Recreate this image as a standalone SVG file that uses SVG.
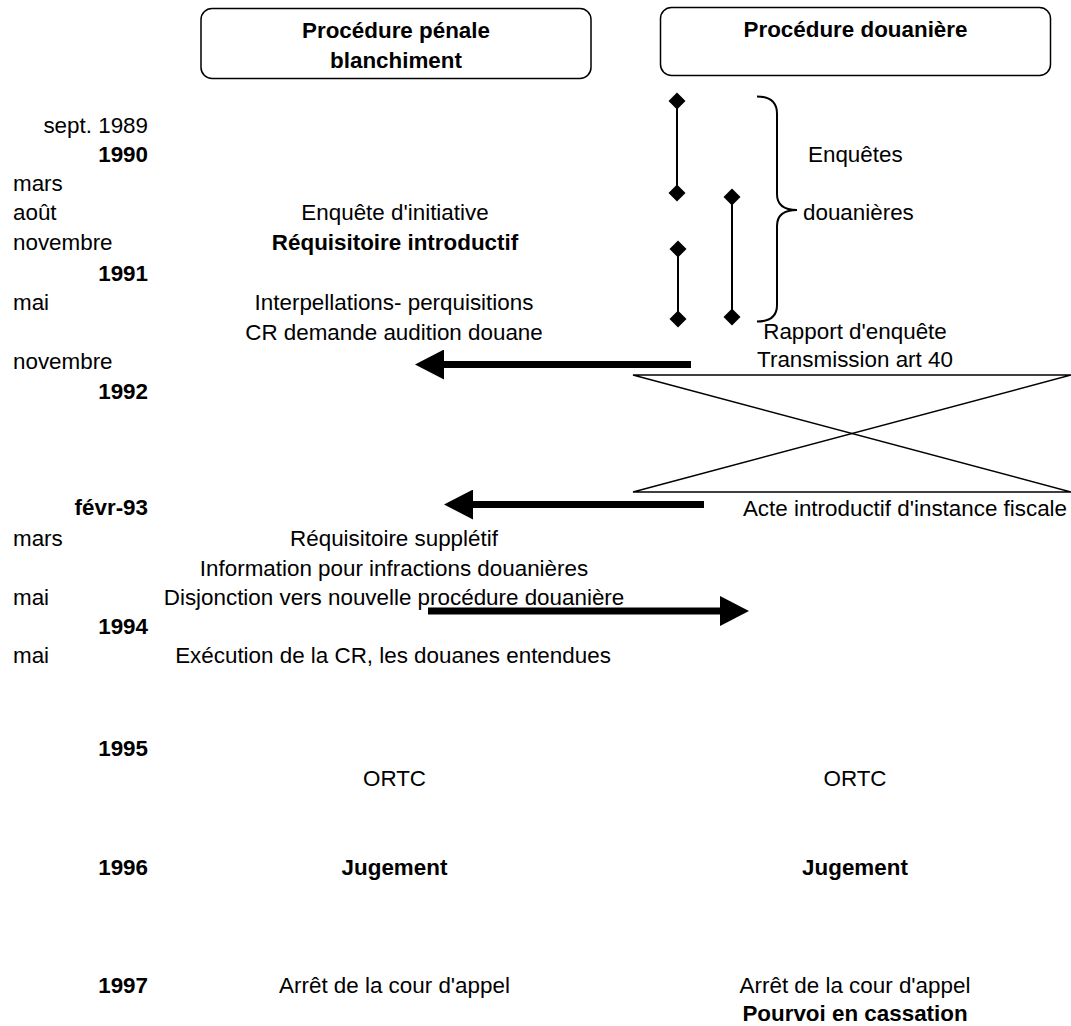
<svg xmlns="http://www.w3.org/2000/svg" width="1071" height="1026" viewBox="0 0 1071 1026">
<style>
text{font-family:"Liberation Sans",Arial,sans-serif;font-size:22.4px;fill:#000}
.b{font-weight:bold}
.m{text-anchor:middle}
.e{text-anchor:end}
.box{fill:#fff;stroke:#000;stroke-width:1.5}
.thin{fill:none;stroke:#000;stroke-width:2}
.thick{fill:none;stroke:#000;stroke-width:7}
.xbox{fill:none;stroke:#000;stroke-width:1.5}
</style>
<defs>
<marker id="dia" viewBox="-9 -9 18 18" markerWidth="18" markerHeight="18" markerUnits="userSpaceOnUse" refX="0" refY="0" orient="0">
<path d="M-8.5,0 L0,-8.5 L8.5,0 L0,8.5 Z" fill="#000"/>
</marker>
<marker id="ah" viewBox="0 0 29 30" markerWidth="29" markerHeight="30" markerUnits="userSpaceOnUse" refX="0" refY="15" orient="auto">
<path d="M0,0 L29,15 L0,30 Z" fill="#000"/>
</marker>
</defs>
<rect width="1071" height="1026" fill="#fff"/>

<g id="header-penale">
<rect class="box" x="201" y="8.5" width="390" height="70" rx="11"/>
<text class="b m" x="396" y="38">Procédure pénale</text>
<text class="b m" x="396" y="68">blanchiment</text>
</g>
<g id="header-douaniere">
<rect class="box" x="660.5" y="7.5" width="390" height="68" rx="11"/>
<text class="b m" x="855.5" y="37">Procédure douanière</text>
</g>

<g id="timeline">
<text class="e" x="148" y="133">sept. 1989</text>
<text class="b e" x="148" y="162">1990</text>
<text x="13" y="191">mars</text>
<text x="13" y="220">août</text>
<text x="13" y="250">novembre</text>
<text class="b e" x="148" y="281">1991</text>
<text x="13" y="310">mai</text>
<text x="13" y="369">novembre</text>
<text class="b e" x="148" y="399">1992</text>
<text class="b e" x="148" y="515">févr-93</text>
<text x="13" y="546">mars</text>
<text x="13" y="605">mai</text>
<text class="b e" x="148" y="634">1994</text>
<text x="13" y="663">mai</text>
<text class="b e" x="148" y="756">1995</text>
<text class="b e" x="148" y="875">1996</text>
<text class="b e" x="148" y="993">1997</text>
</g>

<g id="penale-events">
<text class="m" x="395" y="220">Enquête d'initiative</text>
<text class="b m" x="395" y="250">Réquisitoire introductif</text>
<text class="m" x="394" y="310">Interpellations- perquisitions</text>
<text class="m" x="394" y="340">CR demande audition douane</text>
<text class="m" x="394" y="546">Réquisitoire supplétif</text>
<text class="m" x="394" y="576">Information pour infractions douanières</text>
<text class="m" x="394" y="605">Disjonction vers nouvelle procédure douanière</text>
<text class="m" x="393" y="663">Exécution de la CR, les douanes entendues</text>
<text class="m" x="394.5" y="786">ORTC</text>
<text class="b m" x="394.5" y="875">Jugement</text>
<text class="m" x="394.5" y="993">Arrêt de la cour d'appel</text>
</g>

<g id="douane-enquetes">
<line class="thin" x1="677" y1="101" x2="677" y2="193" marker-start="url(#dia)" marker-end="url(#dia)"/>
<line class="thin" x1="678" y1="249" x2="678" y2="319" marker-start="url(#dia)" marker-end="url(#dia)"/>
<line class="thin" x1="732" y1="197" x2="732" y2="317" marker-start="url(#dia)" marker-end="url(#dia)"/>
<path class="thin" d="M757,96.5 C771,96.5 777,103 777,114 L777,194 C777,204 783,210 797,210 C783,210 777,216 777,226 L777,305 C777,316 771,321.5 757,321.5"/>
<text x="808" y="162">Enquêtes</text>
<text x="803" y="220">douanières</text>
</g>

<g id="douane-events">
<text class="m" x="855" y="339">Rapport d'enquête</text>
<text class="m" x="855" y="367">Transmission art 40</text>
<path class="xbox" d="M633,375 L1071,375 L633,492 L1071,492 Z"/>
<text class="m" x="905" y="516">Acte introductif d'instance fiscale</text>
<text class="m" x="855" y="786">ORTC</text>
<text class="b m" x="855" y="875">Jugement</text>
<text class="m" x="855" y="993">Arrêt de la cour d'appel</text>
<text class="b m" x="855" y="1021">Pourvoi en cassation</text>
</g>

<g id="connectors">
<line class="thick" x1="691" y1="364.5" x2="444" y2="364.5" marker-end="url(#ah)"/>
<line class="thick" x1="704" y1="504.5" x2="473" y2="504.5" marker-end="url(#ah)"/>
<line class="thick" x1="428" y1="611" x2="720" y2="611" marker-end="url(#ah)"/>
</g>
</svg>
